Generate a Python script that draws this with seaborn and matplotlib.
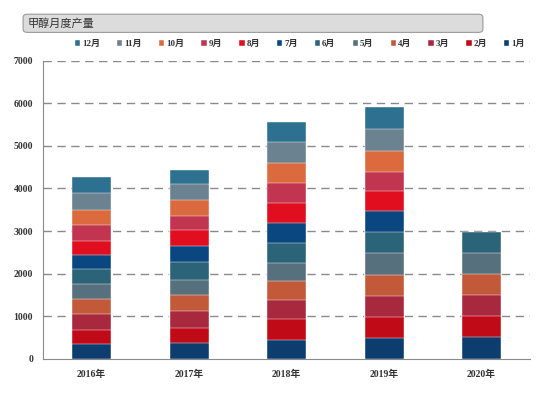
import numpy as np
import pandas as pd
import matplotlib
matplotlib.use("Agg")
import matplotlib.pyplot as plt
from matplotlib.patches import FancyBboxPatch
import seaborn as sns

# ------------------------------
# Data
# ------------------------------
years = ["2016年", "2017年", "2018年", "2019年", "2020年"]
months = ["1月", "2月", "3月", "4月", "5月", "6月",
          "7月", "8月", "9月", "10月", "11月", "12月"]

y2016 = [340, 345, 375, 350, 355, 335, 345, 320, 370, 370, 390, 375]
y2017 = [370, 360, 385, 375, 355, 430, 370, 375, 335, 385, 355, 335]
y2018 = [450, 475, 450, 455, 410, 470, 470, 470, 470, 485, 495, 470]
y2019 = [475, 510, 485, 495, 525, 495, 495, 470, 445, 495, 510, 510]
y2020 = [510, 495, 490, 495, 500, 495]

month_colors = ["#0D3D6E", "#C00A18", "#A8283E", "#C25A3A", "#56707E", "#2B6378",
                "#0A4680", "#E00E1E", "#C23550", "#DB6B3F", "#6B8291", "#2E7090"]

# ------------------------------
# Long table with cumulative sums
# ------------------------------
rows = []
for yr, vals in zip(years, [y2016, y2017, y2018, y2019, y2020]):
    cum = np.cumsum(vals)
    for m, c in zip(months, cum):
        rows.append({"year": yr, "month": m, "cum": c})
df = pd.DataFrame(rows)

CJK = ["Noto Sans CJK SC", "DejaVu Sans"]
SERIF = ["Liberation Serif", "Noto Sans CJK SC"]

sns.set_style("white")
plt.rcParams["font.family"] = SERIF

fig = plt.figure(figsize=(5.5, 3.95), dpi=100)
ax = fig.add_axes([0.078, 0.092, 0.886, 0.754])

# draw tallest cumulative first, smaller ones on top
for m, col in reversed(list(zip(months, month_colors))):
    sub = df[df["month"] == m]
    sns.barplot(data=sub, x="year", y="cum", order=years, color=col,
                saturation=1, width=0.4, edgecolor="white", linewidth=0.3,
                ax=ax, errorbar=None, label=m, zorder=3)

if ax.get_legend() is not None:
    ax.get_legend().remove()

ax.set_ylim(0, 7000)
ax.set_xlim(-0.5, 4.5)
ax.set_yticks(range(0, 7001, 1000))
ax.set_xlabel("")
ax.set_ylabel("")

for v in range(1000, 7001, 1000):
    ax.axhline(v, color="#8a8a8a", lw=1.0, ls=(0, (6, 4)), zorder=1)

for s in ["top", "right"]:
    ax.spines[s].set_visible(False)
for s in ["left", "bottom"]:
    ax.spines[s].set_color("#8a8a8a")
    ax.spines[s].set_linewidth(0.8)

ax.tick_params(axis="y", length=3, color="#8a8a8a", labelsize=7, pad=4)
ax.tick_params(axis="x", which="major", length=0, labelsize=7, pad=8)
ax.set_xticks(np.arange(0.5, 5.0, 1.0), minor=True)
ax.tick_params(axis="x", which="minor", length=3, color="#8a8a8a")
for lab in ax.get_yticklabels() + ax.get_xticklabels():
    lab.set_fontweight("bold")
    lab.set_color("#333333")

# legend: 12月 ... 1月
handles, labels = ax.get_legend_handles_labels()
leg = fig.legend(handles, labels, loc="center", ncol=12,
                 bbox_to_anchor=(0.545, 0.889), frameon=False,
                 handlelength=0.6, handleheight=0.6, handletextpad=0.2,
                 columnspacing=1.9, prop={"family": SERIF, "size": 6.5, "weight": "bold"})
for t in leg.get_texts():
    t.set_color("#333333")

# title bar
box = FancyBboxPatch((0.045, 0.921), 0.83, 0.04, boxstyle="round,pad=0.003,rounding_size=0.008",
                     transform=fig.transFigure, facecolor="#dcdcdc", edgecolor="#9a9a9a",
                     linewidth=0.8)
fig.patches.append(box)
fig.text(0.05, 0.941, "甲醇月度产量", family=CJK, fontsize=8, color="#333333", va="center")

fig.savefig("out.png", dpi=100)
